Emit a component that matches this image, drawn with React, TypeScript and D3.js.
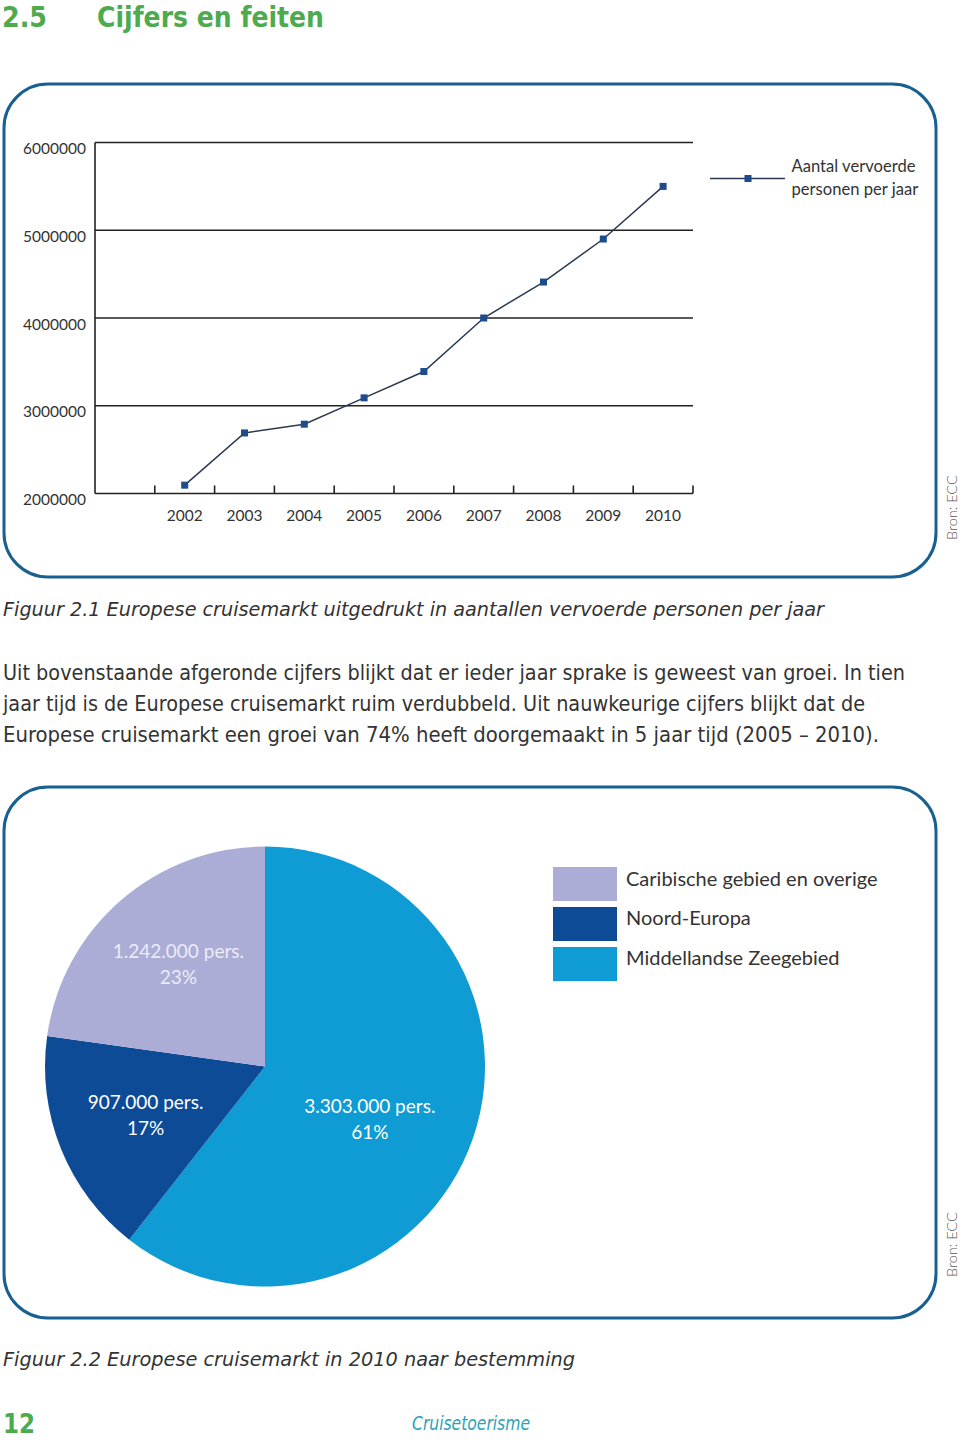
import React from 'react';
import * as d3 from 'd3';

// ---- Data: line chart ----
const years = [2002, 2003, 2004, 2005, 2006, 2007, 2008, 2009, 2010];
const passengers = [2095000, 2690000, 2790000, 3090000, 3390000, 4000000, 4410000, 4900000, 5500000];
const yTicks = [2000000, 3000000, 4000000, 5000000, 6000000];
const xTickBounds = [2001.5, 2002.5, 2003.5, 2004.5, 2005.5, 2006.5, 2007.5, 2008.5, 2009.5, 2010.5];
const lineLegend = ['Aantal vervoerde', 'personen per jaar'];

// ---- Data: pie chart ----
const regions = ['Middellandse Zeegebied', 'Noord-Europa', 'Caribische gebied en overige'];
const regionValues = [3303000, 907000, 1242000];
const regionLabels = ['3.303.000 pers.', '907.000 pers.', '1.242.000 pers.'];
const regionPct = ['61%', '17%', '23%'];
const legendOrder = ['Caribische gebied en overige', 'Noord-Europa', 'Middellandse Zeegebied'];

// ---- Page text ----
const bodyLines = [
  'Uit bovenstaande afgeronde cijfers blijkt dat er ieder jaar sprake is geweest van groei. In tien',
  'jaar tijd is de Europese cruisemarkt ruim verdubbeld. Uit nauwkeurige cijfers blijkt dat de',
  'Europese cruisemarkt een groei van 74% heeft doorgemaakt in 5 jaar tijd (2005 – 2010).',
];
const bodyWidths = [902, 862, 876];

const GREEN = '#4dab4d';
const BORDER = '#176090';
const regionColors = ['#0f9bd3', '#0d4b97', '#abadd7'];
const labelNudge: [number, number][] = [[-20, 9], [3, -1], [0, -3]];
const chartFont = "Lato, 'Open Sans', sans-serif";
const pageFont = "'Liberation Sans Narrow', 'DejaVu Sans Condensed', Lato, sans-serif";

export default function App() {
  const x = d3.scaleLinear().domain([2000.5, 2010.5]).range([95, 693]);
  const y = d3.scaleLinear().domain([2000000, 6000000]).range([493.5, 142.5]);
  const line = d3
    .line<number>()
    .x((_, i) => x(years[i]))
    .y((d) => y(d));

  const pieGen = d3.pie<number>().sort(null).value((d) => d);
  const arcs = pieGen(regionValues);
  const R = 220;
  const cx = 265;
  const cy = 1066.5;
  const arcGen = d3.arc<d3.PieArcDatum<number>>().innerRadius(0).outerRadius(R);
  const labelArc = d3.arc<d3.PieArcDatum<number>>().innerRadius(264).outerRadius(0);
  const colorOf = d3.scaleOrdinal<string, string>().domain(regions).range(regionColors);

  return (
    <div style={{ position: 'absolute', left: 0, top: 0 }}>
      <svg width={960} height={1440} style={{ display: 'block', background: '#fff' }}>
        {/* Title */}
        <text x={2} y={27} fontFamily="'DejaVu Sans', sans-serif" fontWeight="bold" fontSize={29} fill={GREEN} textLength={45} lengthAdjust="spacingAndGlyphs">2.5</text>
        <text x={97} y={27} fontFamily="'DejaVu Sans', sans-serif" fontWeight="bold" fontSize={29} fill={GREEN} textLength={227} lengthAdjust="spacingAndGlyphs">Cijfers en feiten</text>

        {/* Box 1 */}
        <rect x={4} y={84} width={932} height={493} rx={44} ry={44} fill="none" stroke={BORDER} strokeWidth={3} />

        {/* Gridlines */}
        {yTicks.slice(1).map((t) => (
          <line key={t} x1={x(2000.5)} x2={x(2010.5)} y1={y(t)} y2={y(t)} stroke="#222" strokeWidth={1.6} />
        ))}
        {/* Axes */}
        <line x1={x(2000.5)} x2={x(2000.5)} y1={y(6000000)} y2={y(2000000)} stroke="#222" strokeWidth={1.6} />
        <line x1={x(2000.5)} x2={x(2010.5)} y1={y(2000000)} y2={y(2000000)} stroke="#222" strokeWidth={1.6} />
        {xTickBounds.map((t) => (
          <line key={t} x1={x(t)} x2={x(t)} y1={y(2000000) - 8} y2={y(2000000)} stroke="#222" strokeWidth={1.6} />
        ))}
        {yTicks.map((t) => (
          <text key={t} x={86} y={y(t) + 11.5} textAnchor="end" fontFamily={chartFont} fontSize={15.5} fill="#333">{t}</text>
        ))}
        {years.map((yr) => (
          <text key={yr} x={x(yr)} y={520.5} textAnchor="middle" fontFamily={chartFont} fontSize={15.5} fill="#333">{yr}</text>
        ))}

        {/* Series */}
        <path d={line(passengers) || ''} fill="none" stroke="#2a3950" strokeWidth={1.5} />
        {passengers.map((v, i) => (
          <rect key={i} x={x(years[i]) - 3.5} y={y(v) - 3.5} width={7} height={7} fill="#1d4b8c" />
        ))}

        {/* Line legend */}
        <line x1={710} x2={785} y1={178.5} y2={178.5} stroke="#2a3950" strokeWidth={1.5} />
        <rect x={744.5} y={175} width={7} height={7} fill="#1d4b8c" />
        {lineLegend.map((t, i) => (
          <text key={t} x={791.5} y={171.5 + i * 23} fontFamily={chartFont} fontSize={16.6} fill="#333">{t}</text>
        ))}

        {/* Source 1 */}
        <text transform="translate(957,540) rotate(-90)" fontFamily={chartFont} fontWeight={300} fontSize={14.5} fill="#555">Bron: ECC</text>

        {/* Caption 1 */}
        <text x={3} y={616} fontFamily={pageFont} fontStyle="italic" fontWeight={300} fontSize={20} fill="#333" textLength={821} lengthAdjust="spacingAndGlyphs">Figuur 2.1 Europese cruisemarkt uitgedrukt in aantallen vervoerde personen per jaar</text>

        {/* Body */}
        {bodyLines.map((t, i) => (
          <text key={i} x={3} y={680 + i * 31} fontFamily={pageFont} fontWeight={300} fontSize={21} fill="#333" textLength={bodyWidths[i]} lengthAdjust="spacingAndGlyphs">{t}</text>
        ))}

        {/* Box 2 */}
        <rect x={4} y={787} width={932} height={531} rx={44} ry={44} fill="none" stroke={BORDER} strokeWidth={3} />

        {/* Pie */}
        <g transform={`translate(${cx},${cy})`}>
          {arcs.map((a, i) => (
            <path key={regions[i]} d={arcGen(a) || ''} fill={colorOf(regions[i])} />
          ))}
          {arcs.map((a, i) => {
            const [bx, by] = labelArc.centroid(a);
            const lx = bx + labelNudge[i][0];
            const ly = by + labelNudge[i][1];
            return (
              <g key={'l' + i} opacity={i === 2 ? 0.78 : 1}>
                <text x={lx} y={ly - 6} textAnchor="middle" fontFamily={chartFont} fontSize={19} fill="#fff">{regionLabels[i]}</text>
                <text x={lx} y={ly + 20} textAnchor="middle" fontFamily={chartFont} fontSize={19} fill="#fff">{regionPct[i]}</text>
              </g>
            );
          })}
        </g>

        {/* Pie legend */}
        {legendOrder.map((name, i) => (
          <g key={name}>
            <rect x={553} y={867 + i * 40} width={64} height={34} fill={colorOf(name)} />
            <text x={626} y={886 + i * 39.3} fontFamily={chartFont} fontSize={20} fill="#333">{name}</text>
          </g>
        ))}

        {/* Source 2 */}
        <text transform="translate(957,1277) rotate(-90)" fontFamily={chartFont} fontWeight={300} fontSize={14.5} fill="#555">Bron: ECC</text>

        {/* Caption 2 */}
        <text x={3} y={1366} fontFamily={pageFont} fontStyle="italic" fontWeight={300} fontSize={20} fill="#333" textLength={572} lengthAdjust="spacingAndGlyphs">Figuur 2.2 Europese cruisemarkt in 2010 naar bestemming</text>

        {/* Footer */}
        <text x={3} y={1433} fontFamily="'DejaVu Sans', sans-serif" fontWeight="bold" fontSize={26} fill={GREEN} textLength={32} lengthAdjust="spacingAndGlyphs">12</text>
        <text x={412} y={1430} fontFamily={pageFont} fontStyle="italic" fontSize={19} fill="#2aa3b8" textLength={118} lengthAdjust="spacingAndGlyphs">Cruisetoerisme</text>
      </svg>
    </div>
  );
}
